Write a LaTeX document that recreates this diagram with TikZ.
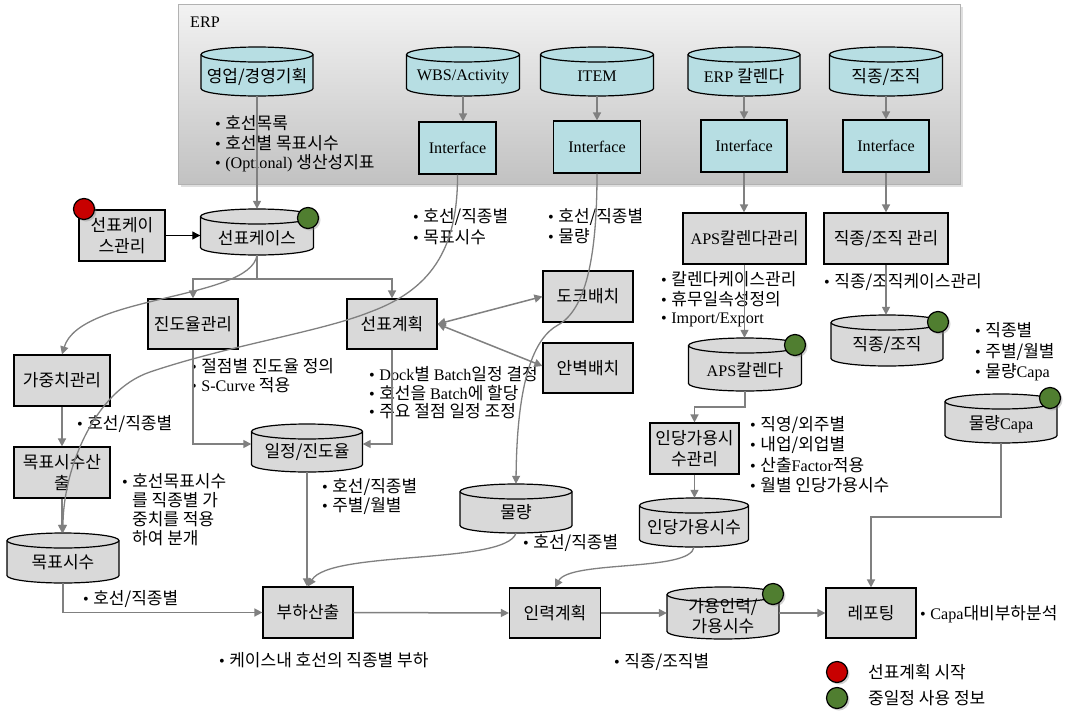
\documentclass[tikz,border=0pt]{standalone}
\usepackage{fontspec}
\setmainfont{Noto Sans CJK KR}
\newfontfamily\lat{Liberation Serif}[Scale=0.95]
\usetikzlibrary{arrows.meta,shadows}
\definecolor{cyanf}{RGB}{183,222,227}
\definecolor{boxg}{RGB}{217,217,217}
\definecolor{lineg}{RGB}{128,128,128}
\definecolor{dotg}{RGB}{80,126,48}
\definecolor{dotr}{RGB}{200,0,0}
\newcommand\lblfont{\fontsize{17}{20.5}\selectfont}
\tikzset{
  boxst/.style={draw=black, line width=1.2pt, inner sep=0pt, align=center, font=\lblfont},
  cylst/.style={draw=black, line width=1.2pt},
  bulst/.style={anchor=west, inner sep=0pt, font=\lblfont},
  dotst/.style={circle, draw=black, line width=1.2pt, minimum size=21pt, inner sep=0pt,
    drop shadow={shadow xshift=2pt, shadow yshift=-2pt, opacity=0.35}},
  erpst/.style={draw=black!30, line width=0.6pt, top color=black!5, bottom color=black!24,
    minimum width=782pt, minimum height=180pt, inner sep=0pt,
    drop shadow={shadow xshift=3pt, shadow yshift=-3pt, opacity=0.25}},
  tipst/.tip={Triangle[length=8pt,width=8pt]},
  arr/.style={draw=lineg, line width=1.5pt, -tipst},
  darr/.style={draw=lineg, line width=1.5pt, tipst-tipst},
  carr/.style={draw=lineg, line width=1.3pt, -tipst},
  gline/.style={draw=lineg, line width=1.5pt},
  karr/.style={draw=black, line width=1.2pt, -tipst},
}
\newcommand\boxnd[7]{\node[boxst, fill=#6, minimum width=#4pt, minimum height=#5pt] (#1) at (#2,-#3) {#7};}
\newcommand\cylnd[8]{%
  \pgfmathsetmacro\cxl{#2-#4/2}%
  \pgfmathsetmacro\cxr{#2+#4/2}%
  \pgfmathsetmacro\cyt{-#3+#5/2-7.5}%
  \pgfmathsetmacro\cyb{-#3-#5/2+7.5}%
  \pgfmathsetmacro\crx{#4/2}%
  \node[inner sep=0pt, minimum width=#4pt, minimum height=#5pt] (#1) at (#2,-#3) {};
  \draw[cylst, fill=#6] (\cxl,\cyt) -- (\cxl,\cyb) arc[start angle=180, end angle=360, x radius=\crx, y radius=7.5] -- (\cxr,\cyt) arc[start angle=0, end angle=180, x radius=\crx, y radius=7.5] -- cycle;
  \draw[cylst] (\cxl,\cyt) arc[start angle=180, end angle=360, x radius=\crx, y radius=7.5];
  \node[font=\lblfont, align=center, inner sep=0pt] (#1-t) at (#2,-#3-#8) {#7};
}
\newcommand\dotnd[4]{\node[dotst, fill=#4] (#1) at (#2,-#3) {};}
\newcommand\bulnd[4]{\node[bulst] (#1) at (#2,-#3) {{\lat •}\hspace{4.5pt}#4};}
\newcommand\contnd[4]{\node[bulst] (#1) at (#2,-#3) {#4};}

\begin{document}
\begin{tikzpicture}[x=1pt,y=1pt]
\useasboundingbox (0,0) rectangle (1070,-712);
\fill[white] (0,0) rectangle (1070,-712);

% ERP frame
\node[erpst] (erp) at (569,-94) {};
\node[anchor=west, inner sep=0pt, font=\lat\fontsize{17}{19}\selectfont] (erpl) at (190,-22) {ERP};

% ERP cylinders and interfaces
\cylnd{c1}{257}{71.5}{112}{49}{cyanf}{영업/경영기획}{5}
\cylnd{c2}{463}{71.5}{113}{49}{cyanf}{{\lat WBS/Activity}}{5}
\cylnd{c3}{597}{71.5}{113}{49}{cyanf}{{\lat ITEM}}{5}
\cylnd{c4}{744}{71.5}{112}{49}{cyanf}{{\lat ERP} 칼렌다}{5}
\cylnd{c5}{886}{71.5}{113}{49}{cyanf}{직종/조직}{5}
\boxnd{i2}{457.5}{148}{77}{52}{cyanf}{{\lat Interface}}
\boxnd{i3}{597}{147}{87}{52}{cyanf}{{\lat Interface}}
\boxnd{i4}{744}{146}{86}{52}{cyanf}{{\lat Interface}}
\boxnd{i5}{886}{146}{86}{52}{cyanf}{{\lat Interface}}

% main nodes
\boxnd{skm}{122}{235.5}{86}{51}{boxg}{선표케이\\스관리}
\cylnd{sk}{257}{232}{113}{46}{boxg}{선표케이스}{6}
\boxnd{jdm}{193}{324}{90}{50}{boxg}{진도율관리}
\boxnd{spl}{392}{324}{90}{50}{boxg}{선표계획}
\boxnd{gjm}{62}{380.5}{96}{51}{boxg}{가중치관리}
\boxnd{mps}{62}{472.5}{96}{51}{boxg}{목표시수산\\출}
\cylnd{mp}{63}{558}{112}{50}{boxg}{목표시수}{4}
\cylnd{ij}{307}{448}{111}{48}{boxg}{일정/진도율}{4}
\boxnd{dk}{588}{296.5}{90}{51}{boxg}{도크배치}
\boxnd{ab}{588}{368}{90}{50}{boxg}{안벽배치}
\cylnd{mr}{516}{508.5}{112}{49}{boxg}{물량}{4}
\boxnd{bh}{308}{612.5}{90}{51}{boxg}{부하산출}
\boxnd{ir}{555}{613}{91}{50}{boxg}{인력계획}
\cylnd{gy}{723}{613}{112}{52}{boxg}{가용인력/\\가용시수}{3}
\boxnd{rp}{871}{613}{90}{50}{boxg}{레포팅}
\boxnd{aps}{744.5}{238.5}{123}{51}{boxg}{{\lat APS}칼렌다관리}
\boxnd{jjm}{886}{238.5}{124}{51}{boxg}{직종/조직 관리}
\cylnd{apsc}{745}{364.5}{113}{53}{boxg}{{\lat APS}칼렌다}{6}
\cylnd{jjc}{887}{340.5}{112}{51}{boxg}{직종/조직}{4}
\cylnd{mcap}{1001}{418.5}{112}{49}{boxg}{물량{\lat Capa}}{6}
\boxnd{idm}{694.5}{448.5}{89}{51}{boxg}{인당가용시\\수관리}
\cylnd{idc}{694}{522.5}{109}{49}{boxg}{인당가용시수}{5}

% bullet texts
\bulnd{b1}{215}{123}{호선목록}
\bulnd{b2}{215}{143}{호선별 목표시수}
\bulnd{b3}{215}{163}{{\lat (Optional)} 생산성지표}
\bulnd{b4}{413}{217}{호선/직종별}
\bulnd{b5}{413}{237}{목표시수}
\bulnd{b6}{548}{217}{호선/직종별}
\bulnd{b7}{548}{236}{물량}
\bulnd{b8}{661}{279}{칼렌다케이스관리}
\bulnd{b9}{661}{299}{휴무일속성정의}
\bulnd{b10}{661}{320}{{\lat Import/Export}}
\bulnd{b11}{824}{282}{직종/조직케이스관리}
\bulnd{b12}{975}{330}{직종별}
\bulnd{b13}{975}{352}{주별/월별}
\bulnd{b14}{975}{372}{물량{\lat Capa}}
\bulnd{b15}{191}{366}{절점별 진도율 정의}
\bulnd{b16}{191}{385}{{\lat S-Curve} 적용}
\bulnd{b17}{369}{374}{{\lat Dock}별 {\lat Batch}일정 결정}
\bulnd{b18}{369}{393}{호선을 {\lat Batch}에 할당}
\bulnd{b19}{369}{411}{주요 절점 일정 조정}
\bulnd{b20}{77}{424}{호선/직종별}
\bulnd{b21}{122}{481}{호선목표시수}
\contnd{b22}{132}{500}{를 직종별 가}
\contnd{b23}{132}{519}{중치를 적용}
\contnd{b24}{132}{538}{하여 분개}
\bulnd{b25}{750}{425}{직영/외주별}
\bulnd{b26}{750}{445}{내업/외업별}
\bulnd{b27}{750}{465}{산출{\lat Factor}적용}
\bulnd{b28}{750}{485}{월별 인당가용시수}
\bulnd{b29}{322}{487}{호선/직종별}
\bulnd{b30}{322}{506}{주별/월별}
\bulnd{b31}{523}{543}{호선/직종별}
\bulnd{b32}{83}{599}{호선/직종별}
\bulnd{b33}{219}{660}{케이스내 호선의 직종별 부하}
\bulnd{b34}{614}{662}{직종/조직별}
\bulnd{b35}{920}{614}{{\lat Capa}대비부하분석}

% connectors
\draw[arr] (c1.south) -- (sk.north);
\draw[arr] (c2.south) -- (c2.south |- i2.north);
\draw[arr] (c3.south) -- (i3.north);
\draw[arr] (c4.south) -- (i4.north);
\draw[arr] (c5.south) -- (i5.north);
\draw[arr] (i4.south) -- (i4.south |- aps.north);
\draw[arr] (i5.south) -- (jjm.north);
\draw[karr] (skm.east) -- (skm.east -| sk.west);
\coordinate (br) at (257,-279);
\draw[gline] (sk.south) -- (br);
\draw[arr] (br) -| (jdm.north);
\draw[arr] (br) -| (spl.north);
\draw[carr] (sk.south) .. controls (250,-300) and (80,-295) .. (gjm.north);
\draw[arr] (jdm.south) |- ([yshift=4pt]ij.west);
\draw[arr] (spl.south) |- ([yshift=4pt]ij.east);
\draw[darr] (spl.east) -- (dk.west);
\draw[darr] (spl.east) -- ([yshift=2pt]ab.west);
\draw[arr] (gjm.south) -- (mps.north);
\draw[arr] (mps.south) -- (mps.south |- mp.north);
\draw[carr] (i2.south) .. controls (458,-250) and (430,-290) .. (370,-312) .. controls (320,-332) and (230,-345) .. (150,-372) .. controls (94,-391) and (63,-470) .. (mp.north);
\draw[carr] (i3.south) .. controls (597,-260) and (585,-310) .. (558,-325) .. controls (534,-338) and (517,-380) .. (mr.north);
\draw[arr] (ij.south) -- (ij.south |- bh.north);
\draw[carr] (mr.south) .. controls (505,-565) and (330,-550) .. (bh.north);
\draw[arr] (mp.south) |- (bh.west);
\draw[arr] (bh.east) -- (ir.west);
\draw[arr] (ir.east) -- (gy.west);
\draw[arr] (gy.east) -- (rp.west);
\draw[arr] (mcap.south) -- ++(0,-74) -| (rp.north);
\draw[arr] (aps.south) -- (aps.south |- apsc.north);
\draw[arr] (jjm.south) -- (jjm.south |- jjc.north);
\draw[arr] (apsc.south) -- ++(0,-16) -| (idm.north);
\draw[arr] (idm.south) -- (idm.south |- idc.north);
\draw[carr] (idc.south) .. controls (690,-572) and (570,-560) .. (ir.north);

% dots
\dotnd{d0}{84}{209}{dotr}
\dotnd{d1}{308}{218}{dotg}
\dotnd{d2}{795}{345}{dotg}
\dotnd{d3}{938}{322}{dotg}
\dotnd{d4}{1050}{398}{dotg}
\dotnd{d5}{773}{594}{dotg}

% legend
\dotnd{lr}{837}{672}{dotr}
\dotnd{lg}{837}{698}{dotg}
\contnd{lt1}{868}{672}{선표계획 시작}
\contnd{lt2}{868}{698}{중일정 사용 정보}
\end{tikzpicture}
\end{document}
